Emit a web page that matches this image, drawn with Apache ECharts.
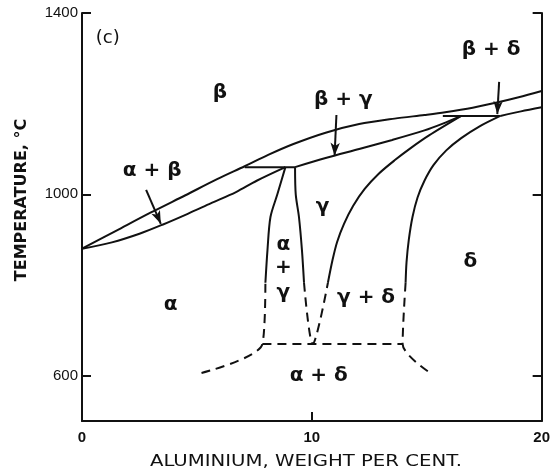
<!DOCTYPE html>
<html>
<head>
<meta charset="utf-8">
<script src="https://cdn.jsdelivr.net/npm/echarts@6/dist/echarts.min.js"></script>
<style>
  html, body { margin: 0; padding: 0; background: #fff; }
  #chart { width: 553px; height: 469px; }
</style>
</head>
<body>
<div id="chart"></div>
<script>
// Phase boundaries: [aluminium wt %, temperature °C]

// beta / (alpha+beta), beta / (beta+gamma), beta / (beta+delta)
const betaBoundary = [[0, 880], [1.5, 920], [3, 960], [4.5, 998], [5.9, 1034], [7.08, 1062],
  [8.1, 1087], [9.2, 1111], [10.6, 1136], [12.06, 1155], [13.6, 1167], [14.9, 1175],
  [15.8, 1181], [17, 1191], [18.1, 1203], [19, 1214], [20, 1228]];
// alpha / (alpha+beta)
const alphaBetaLower = [[0, 880], [1.3, 894], [2.5, 913], [3.5, 933], [4.6, 957],
  [5.6, 980], [6.7, 1005], [7.6, 1030], [8.85, 1060]];
// eutectoid horizontal
const eutectoid = [[7.08, 1060], [9.27, 1060]];
// (beta+gamma) / gamma
const betaGammaLower = [[9.27, 1060], [10.6, 1080], [12.06, 1100], [13.5, 1120],
  [14.9, 1141], [15.7, 1156], [16.5, 1173]];
// upper horizontal
const peritectoid = [[15.7, 1173], [18.2, 1173]];
// (beta+delta) / delta
const betaDeltaLower = [[18.2, 1173], [19.1, 1183], [20, 1192]];
// alpha / (alpha+gamma)
const alphaGammaLeft = [[8.85, 1060], [8.5, 1000], [8.2, 950], [8.07, 877], [7.98, 805]];
// gamma / (alpha+gamma)
const alphaGammaRight = [[9.27, 1060], [9.3, 1000], [9.44, 950], [9.57, 877], [9.66, 805]];
// gamma / (gamma+delta)
const gammaDeltaLeft = [[16.5, 1173], [15.1, 1130], [14.3, 1102], [13.6, 1075], [12.9, 1045],
  [12.3, 1012], [11.8, 975], [11.4, 935], [11.1, 895], [10.9, 855], [10.7, 805]];
// (gamma+delta) / delta
const gammaDeltaRight = [[18.2, 1173], [17.3, 1150], [16.5, 1124], [15.85, 1097], [15.3, 1065],
  [14.9, 1030], [14.6, 993], [14.38, 950], [14.22, 900], [14.12, 850], [14.08, 805]];

// uncertain (dashed) boundaries at lower temperature
const dashedLeft = [[5.2, 606], [7.85, 670], [7.98, 805]];
const dashedBase = [[7.85, 670], [13.95, 670]];
const dashedRight = [[14.08, 805], [13.95, 670], [15.15, 606]];
const dashedVee = [[9.66, 805], [10.04, 670], [10.7, 805]];

// region labels
const regionText = ['β', 'β + γ', 'α + β', 'β + δ', 'γ', 'α', '+', 'γ', 'γ + δ', 'δ', 'α', 'α + δ'];
const regionX = [6.0, 11.37, 3.05, 17.8, 10.47, 8.76, 8.76, 8.76, 12.36, 16.9, 3.86, 10.3];
const regionT = [1224, 1208, 1051, 1318, 972, 888, 838, 782, 771, 851, 756, 599];
const panelTag = '(c)';
const panelX = 1.12;
const panelT = 1345;

// pointer arrows: [x0, t0, x1, t1]
const arrows = [[2.79, 1010, 3.43, 935], [11.07, 1175, 10.99, 1085], [18.15, 1248, 18.07, 1177]];

const xTicks = [10];
const xLabels = [0, 10, 20];
const tTicks = [600, 1000, 1400];

const INK = '#111';

function boundary(pts, dashed) {
  return {
    type: 'line',
    data: pts,
    showSymbol: false,
    symbol: 'none',
    smooth: pts.length > 2 ? 0.3 : false,
    lineStyle: { color: INK, width: 2, type: dashed ? [9, 6] : 'solid' },
    silent: true,
    animation: false,
    z: 3
  };
}

function textLayer(items, size, weight) {
  return {
    type: 'scatter',
    symbolSize: 0,
    silent: true,
    animation: false,
    itemStyle: { opacity: 1, color: INK },
    data: items,
    label: {
      show: true,
      position: 'inside',
      formatter: p => p.name,
      color: INK,
      opacity: 1,
      textBorderWidth: 0,
      fontFamily: 'DejaVu Sans',
      fontWeight: weight,
      fontSize: size
    },
    labelLayout: { hideOverlap: false }
  };
}

const series = [
  boundary(betaBoundary), boundary(alphaBetaLower), boundary(eutectoid),
  boundary(betaGammaLower), boundary(peritectoid), boundary(betaDeltaLower),
  boundary(alphaGammaLeft), boundary(alphaGammaRight), boundary(gammaDeltaLeft),
  boundary(gammaDeltaRight),
  boundary(dashedLeft, true), boundary(dashedBase, true),
  boundary(dashedRight, true), boundary(dashedVee, true)
];

// phase-field names and the panel tag, placed in data coordinates
series.push(textLayer(regionText.map((t, i) => ({ name: t, value: [regionX[i], regionT[i]] })), 20, 'bold'));
series.push(textLayer([{ name: panelTag, value: [panelX, panelT] }], 18, 'normal'));

// pointer arrows
series.push({
  type: 'line',
  data: [],
  silent: true,
  animation: false,
  markLine: {
    silent: true,
    animation: false,
    symbol: ['none', 'arrow'],
    symbolSize: [7, 13],
    label: { show: false },
    lineStyle: { color: INK, width: 2, type: 'solid' },
    data: arrows.map(a => [{ coord: [a[0], a[1]] }, { coord: [a[2], a[3]] }])
  }
});

const chart = echarts.init(document.getElementById('chart'), null, { renderer: 'canvas' });

const axisCommon = {
  type: 'value',
  axisLine: { show: true, onZero: false, lineStyle: { color: INK, width: 2 } },
  splitLine: { show: false },
  axisTick: { show: true, inside: true, length: 9, lineStyle: { color: INK, width: 2 } }
};

chart.setOption({
  animation: false,
  backgroundColor: '#fff',
  grid: { left: 82, right: 5, top: 13, bottom: 48, containLabel: false },
  xAxis: Object.assign({}, axisCommon, {
    min: 0, max: 20,
    axisTick: Object.assign({}, axisCommon.axisTick, { customValues: xTicks }),
    axisLabel: {
      customValues: xLabels, color: INK, fontFamily: 'Liberation Sans',
      fontSize: 15, fontWeight: 'bold', margin: 9,
      formatter: v => String(v)
    }
  }),
  yAxis: [
    Object.assign({}, axisCommon, {
      min: 500, max: 1400, position: 'left',
      axisTick: Object.assign({}, axisCommon.axisTick, { customValues: tTicks }),
      axisLabel: {
        customValues: tTicks, color: INK, fontFamily: 'Liberation Sans',
        fontSize: 15, margin: 4,
        formatter: v => String(v)
      }
    }),
    Object.assign({}, axisCommon, {
      min: 500, max: 1400, position: 'right',
      axisTick: Object.assign({}, axisCommon.axisTick, { customValues: tTicks }),
      axisLabel: { show: false }
    })
  ],
  graphic: [
    {
      type: 'text',
      x: 306,
      y: 462,
      scaleX: 1.23,
      style: {
        text: 'ALUMINIUM, WEIGHT PER CENT.',
        fill: INK,
        font: '16px "DejaVu Sans"',
        align: 'center',
        verticalAlign: 'middle'
      }
    },
    {
      type: 'text',
      x: 22,
      y: 200,
      rotation: Math.PI / 2,
      style: {
        text: 'TEMPERATURE, °C',
        fill: INK,
        font: 'bold 16px "DejaVu Sans"',
        align: 'center',
        verticalAlign: 'middle'
      }
    }
  ],
  series: series
});
</script>
</body>
</html>
